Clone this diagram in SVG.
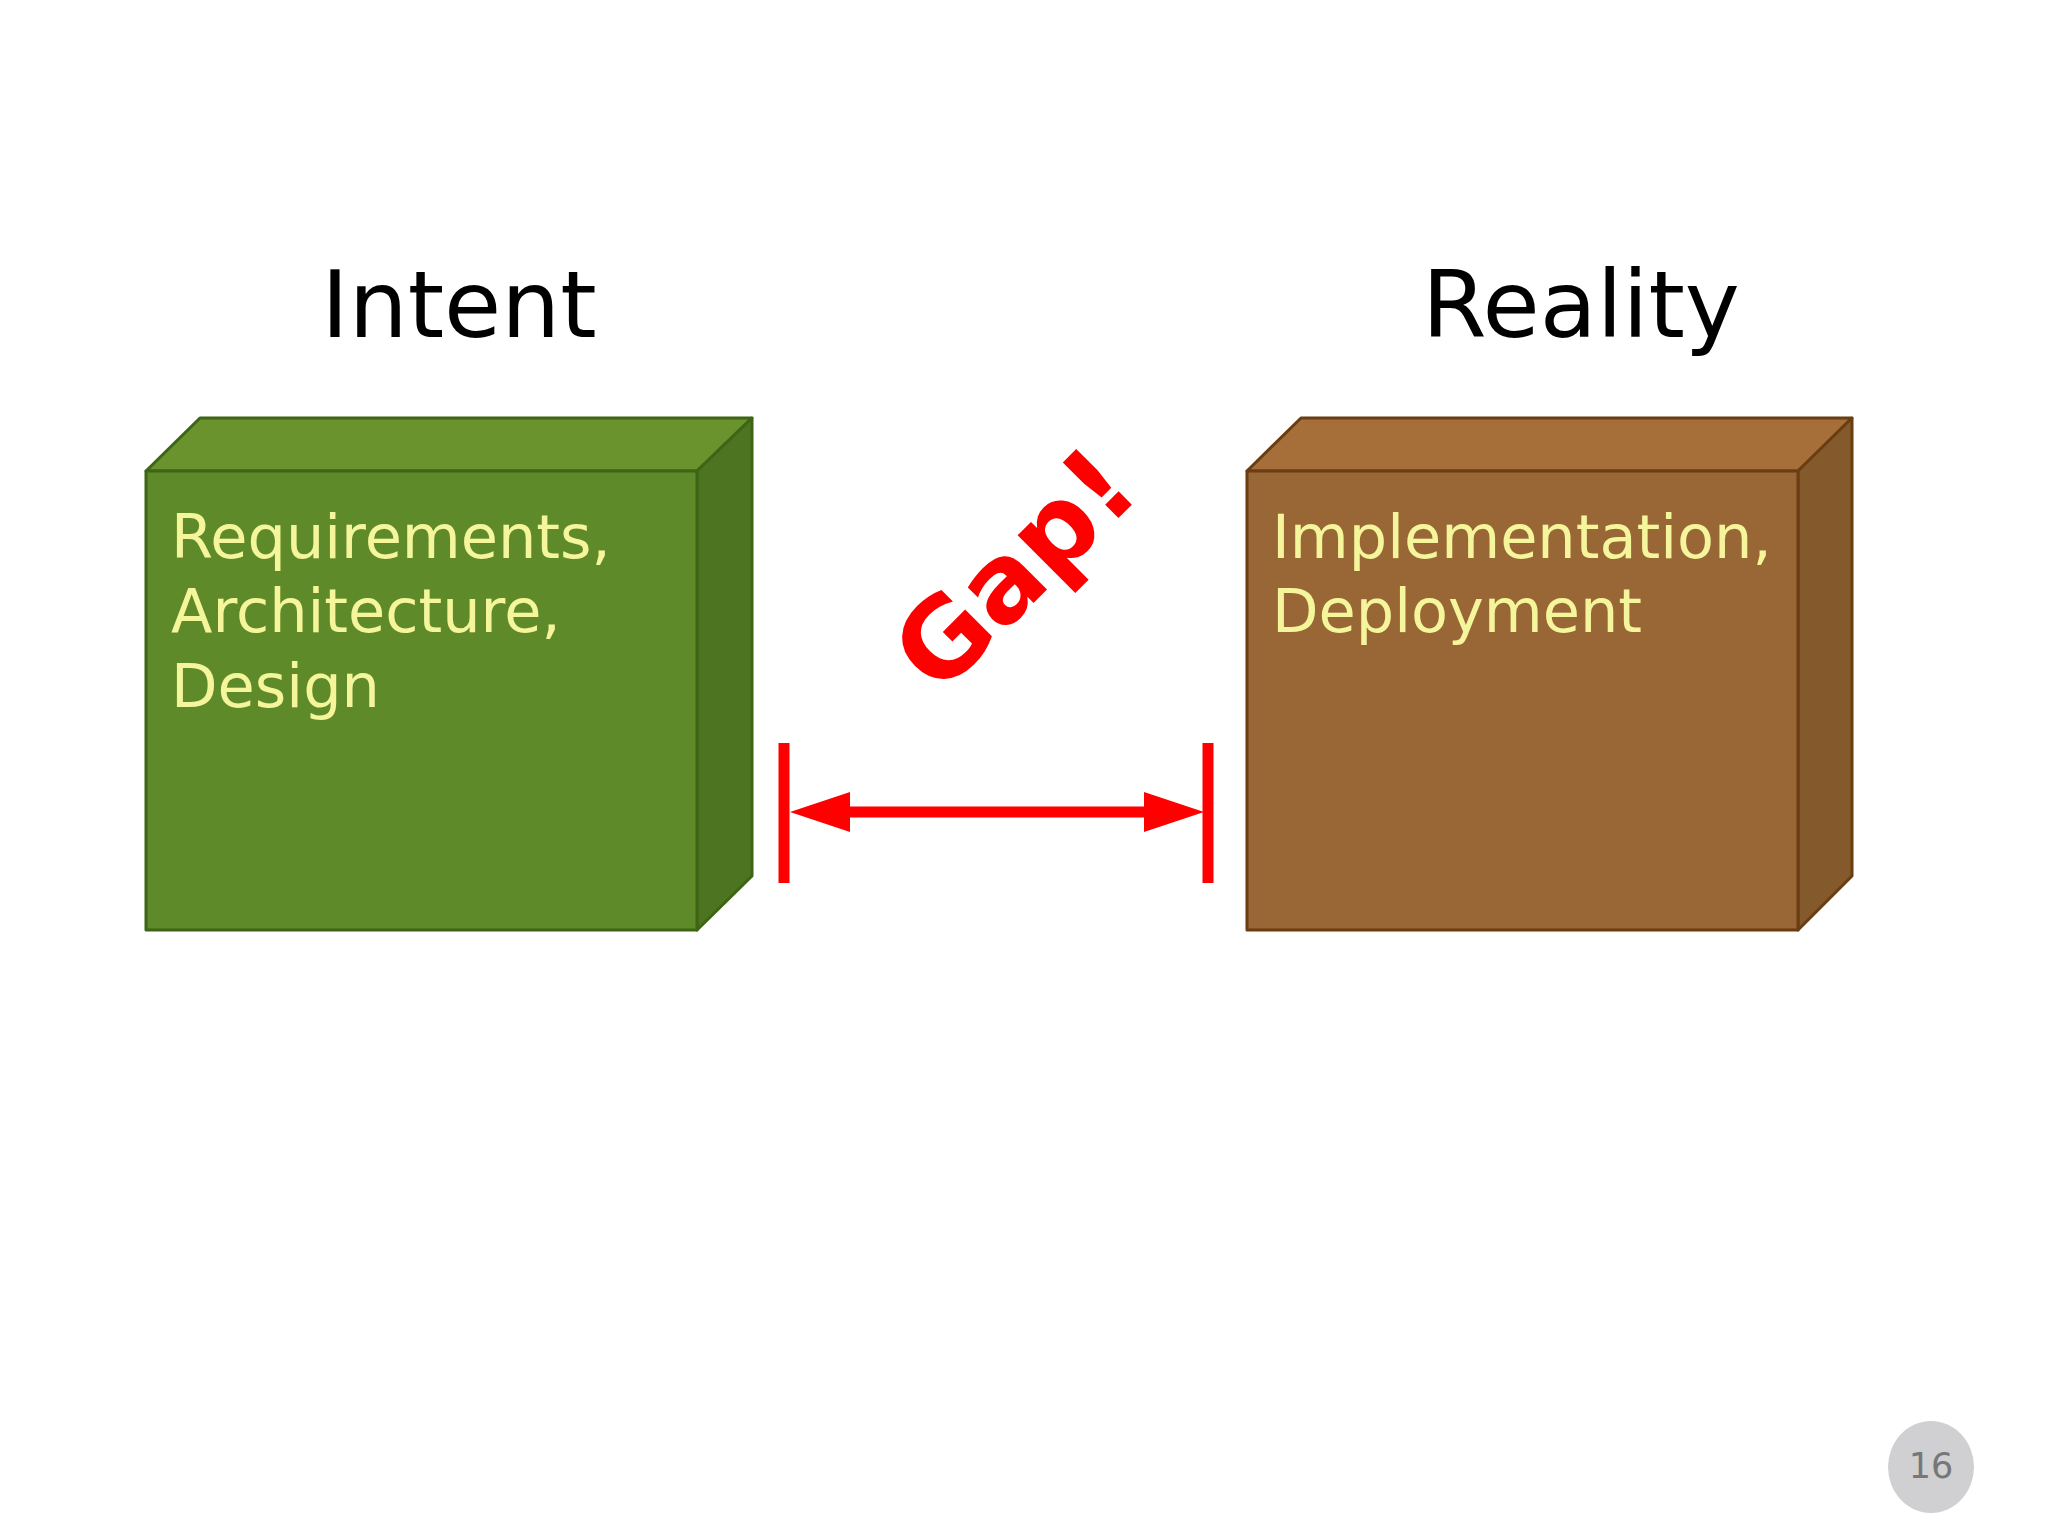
<svg xmlns="http://www.w3.org/2000/svg" width="2048" height="1537" viewBox="0 0 2048 1537">
<style>
.title{font-family:"DejaVu Sans","Liberation Sans",sans-serif;font-size:93px;fill:#000;text-anchor:middle}
.lbl{font-family:"DejaVu Sans","Liberation Sans",sans-serif;font-size:60.5px;fill:#f5f59b}
.gap{font-family:"DejaVu Sans","Liberation Sans",sans-serif;font-size:108px;font-weight:bold;fill:#ff0000;text-anchor:middle}
.g{stroke:#3d6515;stroke-width:3;stroke-linejoin:round}
.b{stroke:#6b3d12;stroke-width:3;stroke-linejoin:round}
.red{stroke:#ff0000;fill:none}
</style>
<defs>
<marker id="ah" viewBox="0 0 60 40" refX="2" refY="20" markerWidth="60" markerHeight="40" markerUnits="userSpaceOnUse" orient="auto-start-reverse">
<path d="M0,0 L60,20 L0,40 Z" fill="#ff0000"/>
</marker>
</defs>
<rect width="2048" height="1537" fill="#ffffff"/>
<text class="title" x="459" y="337">Intent</text>
<text class="title" x="1581" y="337">Reality</text>
<g id="intent-box">
<polygon class="g" points="146,471 200,418 752,418 697,471" fill="#6a922d"/>
<polygon class="g" points="697,471 752,418 752,876 697,930" fill="#4d7420"/>
<rect class="g" x="146" y="471" width="551" height="459" fill="#5f8a29"/>
<text class="lbl" x="171" y="558">Requirements,</text>
<text class="lbl" x="171" y="632">Architecture,</text>
<text class="lbl" x="171" y="707">Design</text>
</g>
<g id="reality-box">
<polygon class="b" points="1247,471 1301,418 1852,418 1798,471" fill="#a66f3a"/>
<polygon class="b" points="1798,471 1852,418 1852,876 1798,930" fill="#845a2c"/>
<rect class="b" x="1247" y="471" width="551" height="459" fill="#996736"/>
<text class="lbl" x="1272" y="558">Implementation,</text>
<text class="lbl" x="1272" y="632">Deployment</text>
</g>
<g id="connectors">
<line class="red" x1="784" y1="743" x2="784" y2="883" stroke-width="11"/>
<line class="red" x1="1208" y1="743" x2="1208" y2="883" stroke-width="11"/>
<line class="red" x1="848" y1="812" x2="1146" y2="812" stroke-width="11" marker-start="url(#ah)" marker-end="url(#ah)"/>
</g>
<g id="gap-label">
<text class="gap" transform="translate(1016,571) rotate(-45)" x="0" y="35">Gap!</text>
</g>
<g id="page-number">
<ellipse cx="1931" cy="1467" rx="43" ry="46" fill="#d0d0d2"/>
<text x="1931" y="1478" font-family="DejaVu Sans, sans-serif" font-size="35" fill="#777777" text-anchor="middle">16</text>
</g>
</svg>
